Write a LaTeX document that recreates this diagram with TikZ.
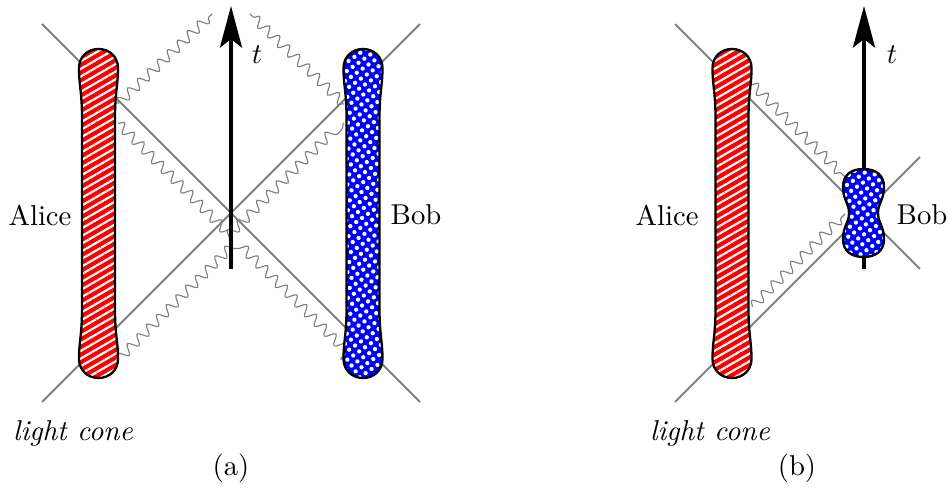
\documentclass[tikz,border=0pt]{standalone}
\usetikzlibrary{decorations.pathmorphing,patterns.meta,arrows.meta}
\begin{document}
\begin{tikzpicture}[x=0.3484pt,y=-0.3484pt,
  cone/.style={draw=gray,line width=0.7pt},
  wavy/.style={draw=gray,line width=0.4pt,decorate,decoration={snake,segment length=4.8pt,amplitude=1.7pt}},
  timeaxis/.style={line width=1.3pt,-{Stealth[length=14.5pt,width=7.7pt,inset=3pt]}},
  redbody/.style={draw=black,thick,preaction={fill=red},pattern={Lines[angle=30,distance=2.3pt,line width=0.75pt]},pattern color=white},
  bluebody/.style={draw=black,thick,preaction={fill=blue},pattern={Dots[angle=35,distance=2.5pt,radius=0.75pt]},pattern color=white},
  lbl/.style={inner sep=0pt,font=\normalsize}]
\useasboundingbox (0,0) rectangle (949,489);
% ---------- panel (a) ----------
\coordinate (a-c1s) at (42,24);  \coordinate (a-c1e) at (420,402);
\coordinate (a-c2s) at (42,402); \coordinate (a-c2e) at (420,24);
\draw[cone] (a-c1s) -- (a-c1e);
\draw[cone] (a-c2s) -- (a-c2e);
\coordinate (a-w1s) at (118,104); \coordinate (a-w1e) at (212,14);
\coordinate (a-w2s) at (344,104); \coordinate (a-w2e) at (250,14);
\coordinate (a-vl) at (118,123); \coordinate (a-vm) at (231,236); \coordinate (a-vr) at (344,123);
\coordinate (a-ll) at (118,360); \coordinate (a-lm) at (231,247); \coordinate (a-lr) at (344,360);
\draw[wavy] (a-w1s) -- (a-w1e);
\draw[wavy] (a-w2s) -- (a-w2e);
\draw[wavy] (a-vl) -- (a-vm) -- (a-vr);
\draw[wavy] (a-ll) -- (a-lm) -- (a-lr);
\coordinate (a-t0) at (231,269); \coordinate (a-t1) at (231,6);
\draw[timeaxis] (a-t0) -- (a-t1);
\begin{scope}[shift={(98.5,0)}]
\draw[redbody] (-19.5,68) .. controls (-19.5,57) and (-11,49) .. (0,49) .. controls (11,49) and (19.5,57) .. (19.5,68) .. controls (19.5,86) and (16.5,92) .. (16.5,118) -- (16.5,309) .. controls (16.5,335) and (19.5,341) .. (19.5,359) .. controls (19.5,370) and (11,378) .. (0,378) .. controls (-11,378) and (-19.5,370) .. (-19.5,359) .. controls (-19.5,341) and (-16.5,335) .. (-16.5,309) -- (-16.5,118) .. controls (-16.5,92) and (-19.5,86) .. (-19.5,68) -- cycle;
\end{scope}
\begin{scope}[shift={(363,0)}]
\draw[bluebody] (-19.5,68) .. controls (-19.5,57) and (-11,49) .. (0,49) .. controls (11,49) and (19.5,57) .. (19.5,68) .. controls (19.5,86) and (16.5,92) .. (16.5,118) -- (16.5,309) .. controls (16.5,335) and (19.5,341) .. (19.5,359) .. controls (19.5,370) and (11,378) .. (0,378) .. controls (-11,378) and (-19.5,370) .. (-19.5,359) .. controls (-19.5,341) and (-16.5,335) .. (-16.5,309) -- (-16.5,118) .. controls (-16.5,92) and (-19.5,86) .. (-19.5,68) -- cycle;
\end{scope}
\node[lbl] (a-t) at (257,55) {$t$};
\node[lbl] (a-alice) at (40,215) {Alice};
\node[lbl] (a-bob) at (416,215) {Bob};
\node[lbl] (a-lc) at (73,433) {\itshape light cone};
\node[lbl] (a-cap) at (231,468) {(a)};
% ---------- panel (b) ----------
\coordinate (b-c1s) at (675,24);  \coordinate (b-c1e) at (920,269);
\coordinate (b-c2s) at (675,402); \coordinate (b-c2e) at (920,157);
\draw[cone] (b-c1s) -- (b-c1e);
\draw[cone] (b-c2s) -- (b-c2e);
\coordinate (b-w1s) at (752,84);  \coordinate (b-w1e) at (845,177);
\coordinate (b-w2s) at (752,307); \coordinate (b-w2e) at (845,214);
\draw[wavy] (b-w1s) -- (b-w1e);
\draw[wavy] (b-w2s) -- (b-w2e);
\coordinate (b-t0) at (864,269); \coordinate (b-t1) at (864,6);
\draw[timeaxis] (b-t0) -- (b-t1);
\begin{scope}[shift={(732,0)}]
\draw[redbody] (-19.5,68) .. controls (-19.5,57) and (-11,49) .. (0,49) .. controls (11,49) and (19.5,57) .. (19.5,68) .. controls (19.5,86) and (16.5,92) .. (16.5,118) -- (16.5,309) .. controls (16.5,335) and (19.5,341) .. (19.5,359) .. controls (19.5,370) and (11,378) .. (0,378) .. controls (-11,378) and (-19.5,370) .. (-19.5,359) .. controls (-19.5,341) and (-16.5,335) .. (-16.5,309) -- (-16.5,118) .. controls (-16.5,92) and (-19.5,86) .. (-19.5,68) -- cycle;
\end{scope}
\begin{scope}[shift={(863.5,0)}]
\draw[bluebody] (0,169) .. controls (12.5,169) and (20.5,175) .. (20.5,187) .. controls (20.5,200) and (14.5,203) .. (14.5,213) .. controls (14.5,223) and (20.5,226) .. (20.5,239) .. controls (20.5,251) and (12.5,257) .. (0,257) .. controls (-12.5,257) and (-20.5,251) .. (-20.5,239) .. controls (-20.5,226) and (-14.5,223) .. (-14.5,213) .. controls (-14.5,203) and (-20.5,200) .. (-20.5,187) .. controls (-20.5,175) and (-12.5,169) .. (0,169) -- cycle;
\end{scope}
\node[lbl] (b-t) at (892,55) {$t$};
\node[lbl] (b-alice) at (667,215) {Alice};
\node[lbl] (b-bob) at (922,215) {Bob};
\node[lbl] (b-lc) at (710,433) {\itshape light cone};
\node[lbl] (b-cap) at (797,468) {(b)};
\end{tikzpicture}
\end{document}
